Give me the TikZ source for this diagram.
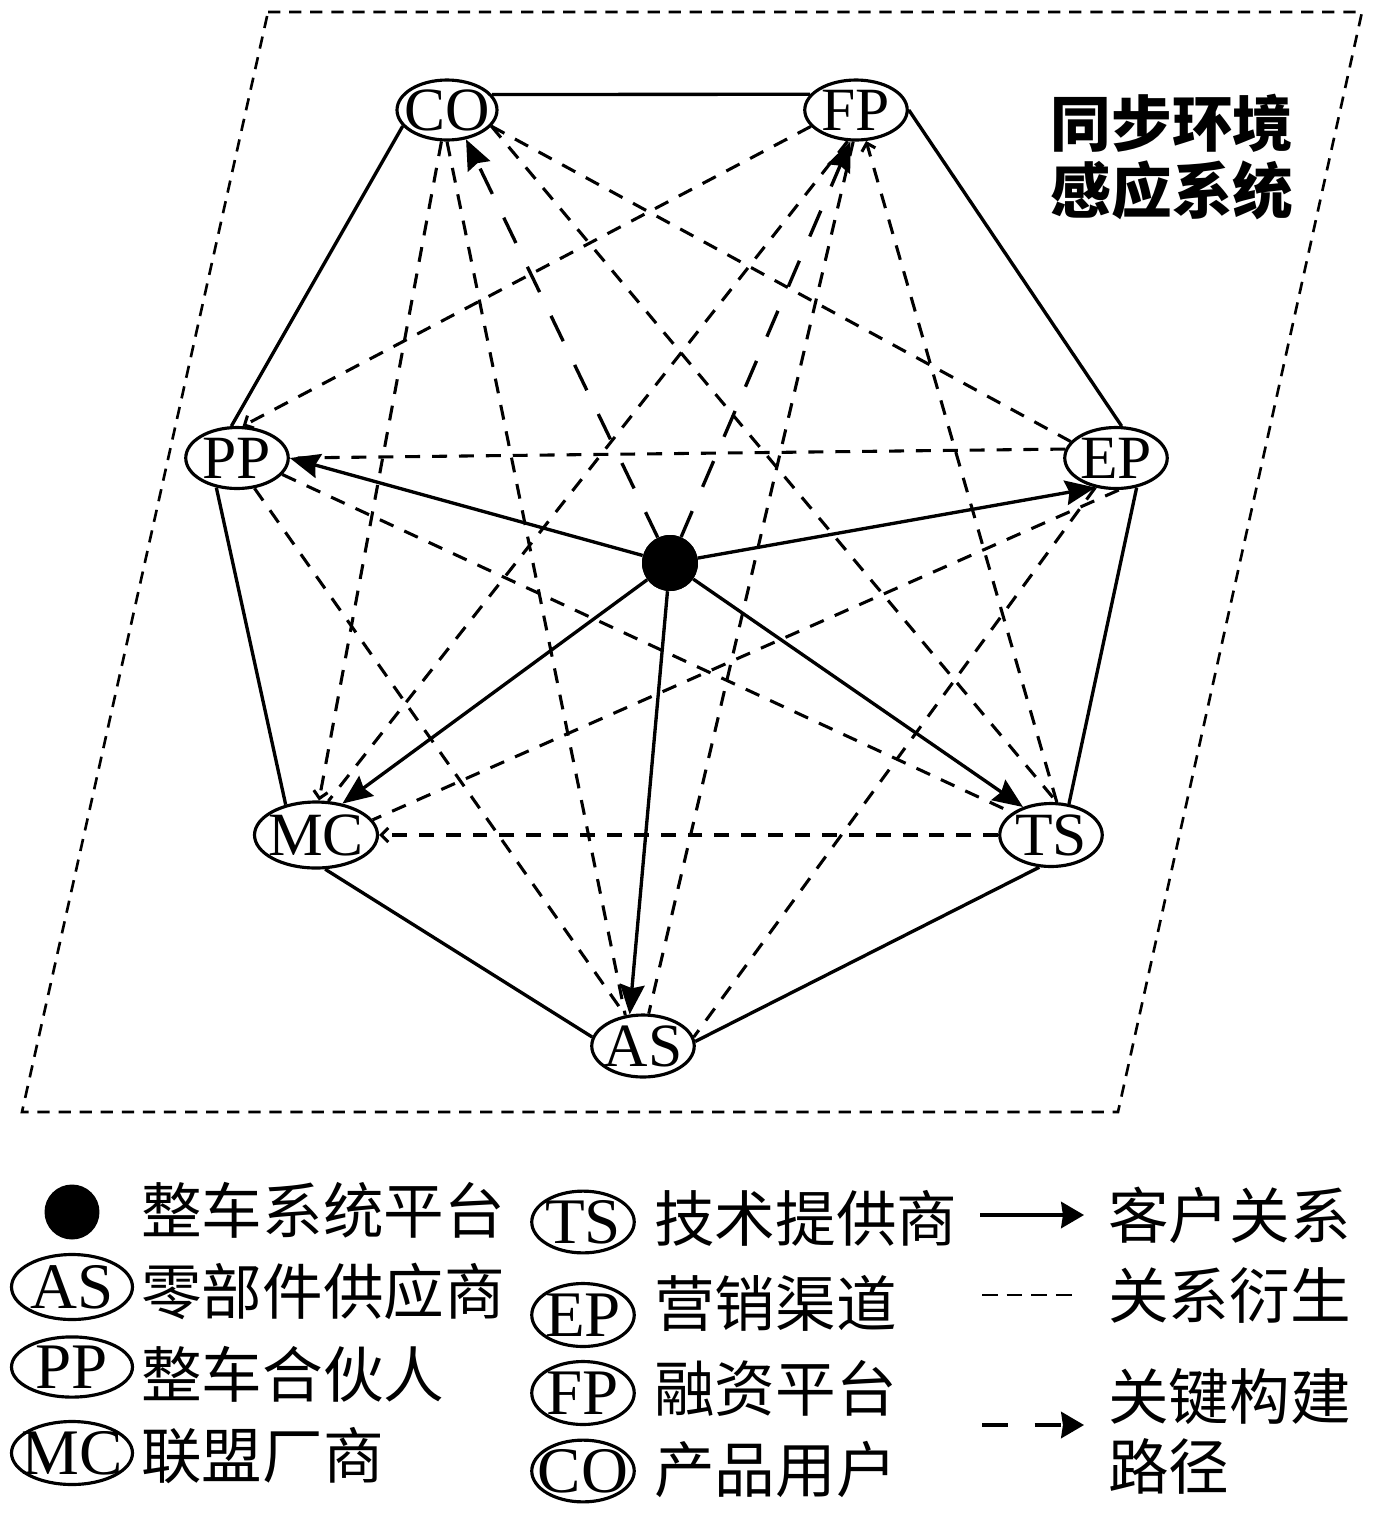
\documentclass[tikz,border=0pt]{standalone}
\usepackage{fontspec}
\setmainfont{Liberation Serif}
\newfontfamily\cjk{Noto Sans CJK SC}
\usetikzlibrary{arrows.meta,shapes.geometric}
\begin{document}
\begin{tikzpicture}[x=0.02cm,y=-0.02cm,
  every node/.style={inner sep=0pt},
  oval/.style={ellipse, draw, line width=1.8pt, fill=white,
    minimum width=2.05cm, minimum height=1.22cm,
    font=\fontsize{35}{35}\selectfont},
  loval/.style={oval, font=\fontsize{37}{37}\selectfont},
  rim/.style={line width=1.9pt},
  cust/.style={line width=1.9pt, -{Stealth[length=17pt,width=14pt,inset=2pt]}},
  rel/.style={line width=1.75pt, dash pattern=on 8.5pt off 6.8pt},
  relarr/.style={rel, -{Straight Barb[length=4pt,width=8pt]}},
  keyp/.style={line width=1.9pt, dash pattern=on 16pt off 15pt,
    -{Stealth[length=17pt,width=14pt,inset=2pt]}},
  frame/.style={line width=1.5pt, dash pattern=on 7pt off 5pt},
  lab/.style={font=\cjk\fontsize{34.5}{40}\selectfont, anchor=west, align=left},
  hub/.style={circle, fill=black, minimum size=1.12cm},
]
\useasboundingbox (0,0) rectangle (1378,1516);

% frame
\coordinate (f1) at (268,12);
\coordinate (f2) at (1362,12);
\coordinate (f3) at (1118,1112);
\coordinate (f4) at (22,1112);
\draw[frame] (f1) -- (f2) -- (f3) -- (f4) -- cycle;

\node[font=\cjk\bfseries\fontsize{34.5}{38}\selectfont, align=center] (title) at (1172,157) {同步环境\\感应系统};

% nodes
\node[oval, minimum width=2.0cm, minimum height=1.2cm] (CO) at (447,110) {\makebox[0pt]{CO}};
\node[oval, minimum height=1.2cm] (FP) at (856,110) {\makebox[0pt]{FP}};
\node[oval] (PP) at (237,458) {\makebox[0pt]{PP}};
\node[oval] (EP) at (1116,458) {\makebox[0pt]{EP}};
\node[oval, minimum width=2.46cm, minimum height=1.32cm] (MC) at (316,835) {\makebox[0pt]{MC}};
\node[oval, minimum height=1.26cm] (TS) at (1051,835) {\makebox[0pt]{TS}};
\node[oval, minimum height=1.24cm] (AS) at (643,1046) {\makebox[0pt]{AS}};
\node[hub] (dot) at (670,563) {};

% derived relations (short dashes)
\draw[relarr] (CO.260) -- (MC.85);
\draw[rel] (CO.south) -- (AS.120);
\draw[rel] (CO.-20) -- (EP.160);
\draw[rel] (CO.-20) -- (TS.80);
\draw[relarr] (FP.200) -- (PP.80);
\draw[rel] (FP.255) -- (MC.70);
\draw[rel] (FP.265) -- (AS.80);
\draw[relarr] (TS.80) -- (FP.-72);
\draw[rel] (EP.170) -- (PP.east);
\draw[rel] (PP.-20) -- (TS.150);
\draw[rel] (PP.-60) -- (AS.120);
\draw[rel] (EP.-85) -- (MC.15);
\draw[rel] (EP.235) -- (AS.10);
\draw[relarr] (TS.west) -- (MC.east);

% perimeter
\draw[rim] (CO.19) -- (FP.161);
\draw[rim] (FP.east) -- (EP.80);
\draw[rim] (EP.-55) -- (TS.60);
\draw[rim] (TS.-110) -- (AS.5);
\draw[rim] (AS.170) -- (MC.-75);
\draw[rim] (MC.135) -- (PP.-125);
\draw[rim] (PP.100) -- (CO.200);

% customer relations
\draw[cust] (dot) -- (PP.east);
\draw[cust] (dot) -- (EP.235);
\draw[cust] (dot) -- (MC.50);
\draw[cust] (dot) -- (TS.135);
\draw[cust] (dot) -- (AS.113);

% key construction paths
\draw[keyp] (dot) -- (CO.-57);
\draw[keyp] (dot) -- (FP.260);

\node[hub] at (dot) {};

% legend left column
\node[circle, fill=black, minimum size=1.1cm] (ldot) at (72,1212) {};
\node[lab] (tdot) at (141,1210) {整车系统平台};
\node[loval, minimum width=2.42cm, minimum height=1.3cm] (lAS) at (72,1287) {\makebox[0pt]{AS}};
\node[lab] (tAS) at (141,1291) {零部件供应商};
\node[loval, minimum width=2.42cm, minimum height=1.2cm] (lPP) at (72,1367) {\makebox[0pt]{PP}};
\node[lab] (tPP) at (141,1374) {整车合伙人};
\node[loval, minimum width=2.42cm, minimum height=1.26cm] (lMC) at (72,1453) {\makebox[0pt]{MC}};
\node[lab] (tMC) at (141,1456) {联盟厂商};

% legend middle column
\node[loval, minimum height=1.2cm] (lTS) at (583,1222) {\makebox[0pt]{TS}};
\node[lab] (tTS) at (654,1218) {技术提供商};
\node[loval, minimum height=1.26cm] (lEP) at (583,1315) {\makebox[0pt]{EP}};
\node[lab] (tEP) at (654,1303) {营销渠道};
\node[loval, minimum height=1.26cm] (lFP) at (583,1393) {\makebox[0pt]{FP}};
\node[lab] (tFP) at (654,1388) {融资平台};
\node[loval, minimum height=1.18cm] (lCO) at (583,1471) {\makebox[0pt]{CO}};
\node[lab] (tCO) at (654,1470) {产品用户};

% legend right column
\coordinate (a1) at (980,1215);
\coordinate (b1) at (1084,1215);
\draw[line width=1.8pt, -{Stealth[length=13pt,width=15pt,inset=1pt]}] (a1) -- (b1);
\node[lab] (tcust) at (1108,1215) {客户关系};
\coordinate (a2) at (982,1295);
\coordinate (b2) at (1073,1295);
\draw[line width=1.6pt, dash pattern=on 9pt off 5pt] (a2) -- (b2);
\node[lab] (trel) at (1108,1295) {关系衍生};
\coordinate (a3) at (982,1425);
\coordinate (b3) at (1084,1425);
\draw[line width=1.8pt, dash pattern=on 15pt off 15pt, -{Stealth[length=13pt,width=15pt,inset=1pt]}] (a3) -- (b3);
\node[lab] (tkey) at (1108,1431) {关键构建\\路径};
\end{tikzpicture}
\end{document}
